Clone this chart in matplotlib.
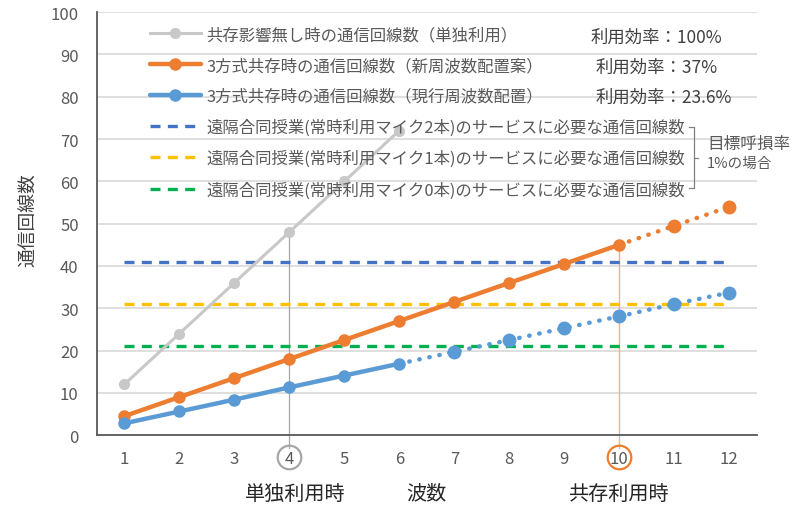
import matplotlib
matplotlib.use("Agg")
import matplotlib.pyplot as plt

plt.rcParams["font.family"] = ["Noto Sans CJK JP", "DejaVu Sans"]

# --- data ------------------------------------------------------------------
waves = [1, 2, 3, 4, 5, 6, 7, 8, 9, 10, 11, 12]
solo = [12, 24, 36, 48, 60, 72]                      # waves 1-6
new_plan = [4.5, 9, 13.5, 18, 22.5, 27, 31.5, 36, 40.5, 45, 49.5, 54]
current = [2.8, 5.6, 8.4, 11.3, 14.1, 16.9, 19.7, 22.5, 25.3, 28.1, 31.0, 33.7]
need_mic2, need_mic1, need_mic0 = 41, 31, 21

NEW_SOLID_TO = 10    # new-plan line is solid up to wave 10, dotted after
CUR_SOLID_TO = 6     # current-plan line is solid up to wave 6, dotted after

labels = [
    "共存影響無し時の通信回線数（単独利用）",
    "3方式共存時の通信回線数（新周波数配置案）",
    "3方式共存時の通信回線数（現行周波数配置）",
    "遠隔合同授業(常時利用マイク2本)のサービスに必要な通信回線数",
    "遠隔合同授業(常時利用マイク1本)のサービスに必要な通信回線数",
    "遠隔合同授業(常時利用マイク0本)のサービスに必要な通信回線数",
]
efficiency = ["利用効率：100%", "利用効率：37%", "利用効率：23.6%"]

GRAY, ORANGE, BLUE = "#C8C8C8", "#ED7D31", "#5B9BD5"
DBLUE, YELLOW, GREEN = "#4472C4", "#FFC000", "#00B050"
TXT = "#595959"
DOTS = (0, (0.1, 2.2))

fig = plt.figure(figsize=(8, 5.06), dpi=100)
ax = fig.add_axes([0.121, 0.138, 0.825, 0.836])

# grid / frame
ax.set_xlim(0.5, 12.5)
ax.set_ylim(0, 100)
ax.set_yticks(range(0, 101, 10))
ax.set_xticks(waves)
ax.yaxis.grid(True, color="#D9D9D9", lw=1.2)
ax.set_axisbelow(True)
for s in ("top", "right"):
    ax.spines[s].set_visible(False)
ax.spines["left"].set_color("#595959")
ax.spines["bottom"].set_color("#595959")
ax.spines["left"].set_linewidth(1.3)
ax.spines["bottom"].set_linewidth(1.3)
ax.tick_params(length=0, labelsize=12, labelcolor=TXT)
ax.tick_params(axis="x", pad=11)
ax.tick_params(axis="y", pad=13)

# reference markers at wave 4 (solo) and wave 10 (coexistence)
ax.plot([4, 4], [solo[3], -3.0], color="#A6A6A6", lw=0.9, clip_on=False, zorder=1)
ax.plot([10, 10], [new_plan[9], -3.0], color="#F4B183", lw=1.0, clip_on=False, zorder=1)
ax.plot([4], [-5.2], "o", ms=17, mfc="none", mec="#A6A6A6", mew=1.6, clip_on=False)
ax.plot([10], [-5.2], "o", ms=17, mfc="none", mec=ORANGE, mew=1.6, clip_on=False)

# requirement lines
h4, = ax.plot([waves[0], waves[-1]], [need_mic2] * 2, color=DBLUE, lw=2.4, ls=(0, (3, 2.2)))
h5, = ax.plot([waves[0], waves[-1]], [need_mic1] * 2, color=YELLOW, lw=2.4, ls=(0, (3, 2.2)))
h6, = ax.plot([waves[0], waves[-1]], [need_mic0] * 2, color=GREEN, lw=2.4, ls=(0, (3, 2.2)))

# capacity lines
h1, = ax.plot(waves[:len(solo)], solo, color=GRAY, lw=2.2, marker="o", ms=7)
h2, = ax.plot(waves[:NEW_SOLID_TO], new_plan[:NEW_SOLID_TO], color=ORANGE, lw=3.2,
              marker="o", ms=8, solid_capstyle="round")
ax.plot(waves[NEW_SOLID_TO - 1:], new_plan[NEW_SOLID_TO - 1:], color=ORANGE, lw=3.2,
        ls=DOTS, dash_capstyle="round", marker="o", ms=9, markevery=[1, 2])
h3, = ax.plot(waves[:CUR_SOLID_TO], current[:CUR_SOLID_TO], color=BLUE, lw=3.2,
              marker="o", ms=8, solid_capstyle="round")
ax.plot(waves[CUR_SOLID_TO - 1:], current[CUR_SOLID_TO - 1:], color=BLUE, lw=3.2,
        ls=DOTS, dash_capstyle="round", marker="o", ms=9,
        markevery=list(range(1, len(waves) - CUR_SOLID_TO + 1)))

leg = ax.legend([h1, h2, h3, h4, h5, h6], labels, loc="upper left",
                bbox_to_anchor=(150 / 800, 1 - 27 / 506), bbox_transform=fig.transFigure,
                frameon=False, fontsize=11.8, handlelength=3.1, handletextpad=0.35,
                labelspacing=0.85, borderpad=0, borderaxespad=0)
for t in leg.get_texts():
    t.set_color(TXT)

# efficiency notes beside the first three legend rows
for (x, y), s in zip([(591, 38), (596, 68), (596, 98)], efficiency):
    fig.text(x / 800, 1 - y / 506, s, fontsize=12.5, color="#404040", va="center")

# bracket grouping the three requirement rows
bx, by0, by1 = 689 / 800, 1 - 128 / 506, 1 - 189 / 506
fig.add_artist(plt.Line2D([bx, bx + 5 / 800, bx + 5 / 800, bx],
                          [by0, by0, by1, by1], color="#808080", lw=0.9))
fig.add_artist(plt.Line2D([bx + 5 / 800, bx + 9 / 800], [(by0 + by1) / 2] * 2,
                          color="#808080", lw=0.9))
fig.text(707 / 800, 1 - 144 / 506, "目標呼損率", fontsize=12, color=TXT, va="center")
fig.text(707 / 800, 1 - 164 / 506, "1%の場合", fontsize=10.5, color=TXT, va="center")

# axis titles
fig.text(29 / 800, 1 - 220 / 506, "通信回線数", rotation=90, fontsize=13.5, color="#404040",
         ha="center", va="center")
for x, s in [(295, "単独利用時"), (426, "波数"), (618, "共存利用時")]:
    fig.text(x / 800, 1 - 494 / 506, s, fontsize=14.5, color="#262626", ha="center", va="center")

fig.savefig("out.png", dpi=100)
